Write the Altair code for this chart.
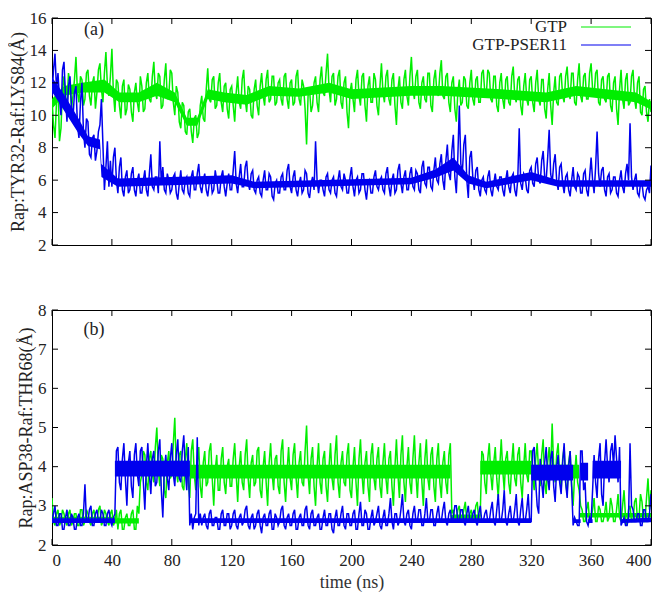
import altair as alt
import pandas as pd

# ---------------- data (1 ns sampling) ----------------
TIME = list(range(0, 401))

GTP_A = [
    11.0, 9.4, 8.6, 10.8, 11.8, 8.4, 9.2, 11.6, 12.4, 11.0, 10.6, 12.6, 12.0, 10.4, 11.2, 12.2, 13.6, 11.4, 10.8, 12.4,
    12.2, 10.6, 11.0, 12.6, 12.8, 11.2, 10.6, 12.0, 12.4, 10.4, 11.4, 12.8, 13.2, 11.6, 10.8, 12.6, 13.9, 11.8, 11.2, 12.4,
    14.1, 11.4, 10.2, 12.2, 12.0, 10.6, 9.8, 11.8, 12.2, 10.0, 10.4, 11.9, 11.6, 10.2, 9.6, 11.4, 12.0, 10.8, 10.2, 12.4,
    11.8, 10.2, 10.4, 12.0, 12.6, 11.0, 10.8, 12.4, 13.3, 11.4, 11.0, 12.6, 12.4, 10.4, 10.6, 12.2, 13.2, 11.0, 11.2, 12.8,
    12.6, 10.8, 10.0, 11.8, 11.4, 9.6, 9.2, 10.8, 10.6, 9.0, 8.8, 10.2, 10.4, 9.0, 8.3, 9.8, 10.0, 8.6, 8.9, 10.6,
    11.2, 9.8, 9.6, 11.6, 12.9, 11.0, 10.8, 12.2, 12.4, 10.4, 10.6, 12.0, 12.6, 10.8, 10.2, 11.8, 12.0, 10.4, 9.8, 11.6,
    11.8, 10.6, 9.6, 11.4, 12.4, 10.8, 10.4, 12.2, 12.8, 11.0, 10.2, 11.8, 11.6, 10.0, 9.8, 11.6, 12.2, 10.6, 10.0, 11.8,
    12.6, 11.2, 10.6, 12.2, 12.8, 10.8, 11.0, 12.4, 12.4, 10.6, 10.8, 12.0, 12.2, 11.0, 10.6, 12.4, 12.6, 11.0, 10.4, 12.0,
    12.2, 10.6, 10.8, 12.4, 12.8, 11.0, 10.6, 12.2, 11.8, 10.4, 8.2, 11.2, 11.6, 10.2, 10.6, 12.0, 12.4, 10.8, 10.2, 12.2,
    13.0, 11.4, 11.2, 12.6, 13.8, 11.6, 10.8, 12.4, 12.6, 10.6, 11.0, 12.4, 12.8, 10.8, 10.4, 12.0, 12.4, 10.2, 9.2, 11.4,
    12.0, 11.0, 10.2, 12.2, 12.8, 11.2, 10.6, 12.4, 12.6, 10.6, 9.6, 11.8, 12.4, 10.8, 10.8, 12.6, 12.2, 10.6, 10.0, 11.8,
    13.2, 11.4, 10.8, 12.4, 12.8, 11.0, 10.6, 12.2, 12.6, 10.6, 9.4, 11.6, 12.4, 10.8, 10.4, 12.2, 12.8, 11.2, 10.6, 12.4,
    13.6, 11.6, 11.0, 12.4, 12.8, 10.8, 10.4, 12.0, 12.4, 11.0, 10.8, 12.6, 12.6, 10.6, 10.2, 12.2, 12.8, 11.4, 11.2, 12.6,
    13.4, 11.2, 11.0, 12.4, 12.6, 10.8, 10.2, 12.0, 12.4, 10.4, 9.6, 11.4, 12.2, 10.6, 10.8, 12.4, 12.2, 10.6, 10.4, 12.0,
    12.8, 11.0, 10.6, 12.2, 12.4, 10.8, 10.8, 12.6, 12.8, 11.4, 11.2, 12.8, 12.6, 11.0, 10.8, 12.4, 12.4, 10.6, 10.2, 12.0,
    12.6, 11.0, 10.4, 12.2, 12.4, 10.8, 10.6, 12.4, 13.0, 11.2, 10.8, 12.2, 12.4, 10.6, 10.0, 11.8, 12.6, 11.0, 10.6, 12.2,
    12.4, 10.8, 10.2, 12.0, 12.8, 11.0, 10.6, 12.2, 12.2, 10.4, 9.8, 11.6, 12.6, 10.6, 9.4, 11.4, 12.4, 10.8, 10.6, 12.4,
    12.6, 11.2, 10.8, 12.4, 13.0, 11.4, 11.0, 12.6, 12.6, 10.8, 10.6, 12.2, 13.2, 11.2, 10.8, 12.4, 12.6, 11.0, 11.0, 12.6,
    13.2, 11.6, 11.2, 12.6, 12.8, 10.8, 10.6, 12.2, 12.4, 11.0, 10.8, 12.4, 12.6, 10.6, 10.2, 12.0, 12.4, 10.4, 9.4, 11.6,
    12.8, 11.0, 10.4, 12.2, 12.6, 10.6, 10.8, 12.4, 12.8, 11.0, 10.4, 12.0, 12.4, 10.2, 10.0, 11.6, 11.8, 10.2, 9.6, 11.0,
    10.2,
]

PSER_A = [
    11.2, 12.8, 13.8, 11.6, 12.6, 11.0, 10.0, 12.8, 13.3, 11.2, 9.6, 11.8, 12.4, 10.6, 9.8, 11.4, 11.8, 9.4, 8.6, 10.8,
    12.0, 9.0, 8.0, 9.8, 9.6, 7.6, 7.4, 8.6, 8.8, 7.2, 7.8, 9.0, 9.4, 11.0, 8.2, 5.4, 6.8, 8.4, 5.6, 7.2,
    5.6, 7.4, 8.0, 6.0, 5.2, 6.8, 7.4, 5.4, 5.0, 6.2, 6.6, 5.2, 5.4, 6.4, 6.8, 5.4, 5.0, 6.0, 6.4, 5.2,
    5.2, 6.0, 6.6, 5.4, 5.0, 6.4, 7.6, 5.6, 5.4, 6.2, 6.2, 5.2, 8.4, 5.8, 6.8, 5.4, 5.2, 6.4, 6.0, 5.2,
    5.4, 6.2, 6.4, 5.2, 4.8, 5.8, 6.6, 5.4, 5.2, 6.0, 6.2, 5.2, 5.0, 6.2, 6.6, 5.4, 5.4, 6.4, 7.0, 5.6,
    5.2, 6.0, 6.4, 5.4, 5.0, 5.8, 6.2, 5.2, 5.4, 6.6, 6.0, 5.2, 5.2, 6.2, 6.6, 5.6, 5.0, 5.8, 6.4, 5.4,
    5.4, 6.6, 7.8, 5.8, 5.2, 6.2, 7.0, 5.6, 5.6, 6.8, 7.2, 5.8, 5.4, 6.4, 6.6, 5.4, 5.2, 6.0, 6.2, 5.2,
    5.0, 6.0, 6.6, 5.4, 5.4, 6.4, 6.2, 5.0, 4.8, 5.8, 6.0, 5.2, 5.2, 6.2, 6.4, 5.4, 5.4, 6.6, 7.0, 5.6,
    5.2, 6.2, 6.6, 5.4, 5.0, 5.8, 6.2, 5.2, 5.4, 6.6, 6.4, 5.2, 4.9, 5.8, 6.2, 5.4, 8.4, 6.0, 5.2, 6.0,
    6.0, 5.4, 5.0, 6.2, 6.4, 5.4, 5.2, 6.0, 6.2, 5.2, 5.0, 6.0, 6.6, 5.6, 5.4, 6.4, 6.0, 5.2, 5.2, 6.2,
    6.8, 5.6, 5.0, 6.0, 6.2, 5.2, 5.4, 6.4, 6.4, 5.4, 4.8, 5.8, 6.0, 5.2, 5.2, 6.2, 6.6, 5.6, 5.4, 6.0,
    6.2, 5.4, 5.2, 6.4, 6.8, 5.6, 5.0, 6.0, 6.4, 5.2, 5.4, 6.6, 7.0, 5.8, 5.2, 6.2, 6.6, 5.4, 5.4, 6.4,
    6.8, 5.6, 5.4, 6.6, 6.4, 5.4, 5.2, 6.8, 7.2, 5.8, 5.6, 6.8, 6.8, 5.6, 5.4, 6.6, 7.4, 6.0, 5.8, 7.0,
    7.6, 6.0, 5.4, 7.2, 8.2, 6.4, 6.0, 7.8, 8.8, 6.2, 5.2, 7.4, 10.6, 7.0, 6.4, 8.2, 8.8, 6.0, 4.9, 7.4,
    7.8, 6.2, 5.4, 6.6, 6.8, 5.4, 5.0, 6.0, 6.2, 5.4, 5.2, 6.2, 6.6, 5.4, 5.0, 5.8, 6.4, 5.6, 5.4, 6.2,
    6.2, 5.4, 5.0, 6.0, 6.6, 5.6, 5.2, 6.2, 6.4, 5.4, 5.0, 6.0, 9.2, 5.8, 5.4, 6.4, 6.2, 5.4, 5.2, 6.6,
    6.8, 5.8, 5.6, 7.0, 7.4, 6.0, 5.8, 7.2, 7.8, 6.2, 6.0, 7.4, 9.1, 6.4, 5.8, 7.0, 7.6, 6.0, 5.4, 6.8,
    7.0, 5.8, 5.2, 6.2, 6.4, 5.4, 5.0, 6.0, 6.8, 5.6, 5.4, 6.4, 6.2, 5.2, 5.2, 6.4, 6.6, 5.4, 5.0, 6.2,
    7.4, 6.0, 5.2, 6.8, 9.0, 6.4, 5.6, 6.6, 6.8, 5.4, 5.0, 6.2, 6.4, 5.2, 5.4, 6.2, 6.2, 5.2, 5.0, 6.0,
    6.6, 5.6, 5.2, 6.4, 7.0, 6.0, 9.5, 6.2, 5.4, 6.0, 6.4, 5.2, 5.0, 5.8, 5.8, 5.0, 4.8, 5.4, 5.6, 5.2,
    6.9,
]

GTP_B = [
    3.2, 2.6, 2.5, 2.8, 2.9, 2.5, 2.6, 2.9, 2.8, 2.6, 2.5, 2.8, 2.9, 2.5, 2.6, 2.8, 2.8, 2.5, 2.5, 2.9,
    2.9, 2.5, 2.6, 2.9, 2.8, 2.6, 2.5, 2.8, 2.9, 2.6, 2.6, 2.9, 3.0, 2.5, 2.6, 2.9, 2.8, 2.6, 2.5, 2.8,
    2.9, 2.5, 2.6, 2.9, 2.4, 2.8, 2.9, 2.4, 2.4, 2.7, 2.8, 2.5, 2.5, 2.8, 2.9, 2.4, 2.4, 3.0, 2.8, 3.6,
    3.8, 4.4, 4.3, 3.6, 3.4, 4.2, 4.4, 3.8, 3.6, 4.5, 5.0, 3.9, 3.5, 4.3, 4.2, 3.4, 3.2, 4.1, 4.4, 3.7,
    3.8, 4.6, 5.25, 3.9, 3.6, 4.3, 4.4, 3.5, 3.4, 4.2, 4.6, 3.6, 3.2, 4.4, 4.7, 3.8, 3.4, 4.1, 4.5, 3.5,
    3.2, 4.1, 4.4, 3.5, 3.6, 4.4, 4.6, 3.7, 3.0, 3.9, 4.3, 3.4, 3.4, 4.2, 4.5, 3.6, 3.3, 4.0, 4.2, 3.5,
    3.5, 4.2, 4.6, 3.8, 3.1, 4.0, 4.4, 3.6, 3.4, 4.3, 4.7, 3.7, 3.2, 4.1, 4.3, 3.5, 3.6, 4.4, 4.5, 3.4,
    3.2, 4.0, 4.4, 3.6, 3.0, 4.1, 4.6, 3.8, 3.4, 4.2, 4.3, 3.5, 3.3, 4.4, 4.7, 3.6, 3.1, 3.9, 4.5, 3.7,
    3.4, 4.3, 4.6, 3.7, 3.2, 4.1, 4.4, 3.6, 3.5, 4.4, 5.05, 3.8, 3.3, 4.2, 4.5, 3.5, 3.0, 4.0, 4.6, 3.6,
    3.3, 4.2, 4.4, 3.5, 3.1, 4.0, 4.6, 3.7, 3.4, 4.3, 4.8, 3.6, 3.2, 4.1, 4.4, 3.6, 3.5, 4.3, 4.6, 3.4,
    3.2, 4.0, 4.5, 3.6, 3.0, 4.2, 4.7, 3.8, 3.3, 4.1, 4.4, 3.5, 3.1, 4.3, 4.6, 3.7, 3.4, 4.2, 4.5, 3.5,
    3.2, 4.1, 4.6, 3.7, 3.3, 4.2, 4.4, 3.5, 3.0, 4.0, 4.7, 3.8, 3.2, 4.3, 4.8, 3.6, 3.1, 4.0, 4.5, 3.6,
    3.3, 4.2, 4.8, 3.8, 3.2, 4.1, 4.6, 3.6, 3.0, 4.2, 4.7, 3.7, 3.4, 4.3, 4.5, 3.5, 3.1, 4.2, 4.6, 3.6,
    3.2, 4.1, 4.4, 3.6, 3.3, 4.3, 4.6, 2.8, 2.9, 2.6, 2.6, 2.9, 3.0, 2.6, 2.7, 2.9, 3.1, 2.6, 2.6, 2.8,
    2.9, 2.6, 2.7, 3.0, 3.1, 2.6, 2.8, 4.4, 4.3, 3.6, 3.3, 4.2, 4.6, 3.8, 3.4, 4.1, 4.5, 3.7, 3.2, 4.0,
    4.7, 3.9, 3.4, 4.2, 4.4, 3.6, 3.3, 4.1, 4.6, 3.7, 3.5, 4.3, 4.5, 3.6, 3.2, 4.0, 4.6, 3.8, 3.6, 4.4,
    4.4, 3.7, 3.4, 4.2, 4.6, 3.8, 3.5, 4.3, 4.7, 3.6, 3.3, 4.1, 4.5, 3.9, 5.1, 4.0, 3.6, 4.3, 4.6, 3.7,
    3.4, 4.2, 4.5, 3.6, 3.3, 4.1, 4.4, 3.5, 3.0, 3.8, 4.3, 3.6, 3.4, 3.0, 2.9, 2.6, 2.6, 2.9, 3.1, 2.6,
    2.7, 2.9, 3.2, 2.6, 2.6, 3.0, 2.9, 2.6, 2.6, 2.8, 3.1, 2.6, 2.7, 3.2, 3.0, 2.6, 2.6, 2.9, 3.3, 2.7,
    2.6, 3.0, 3.4, 2.7, 2.5, 2.9, 3.0, 2.6, 2.6, 3.1, 3.2, 2.6, 2.7, 3.3, 3.1, 2.6, 2.6, 3.2, 3.7, 2.9,
    3.4,
]

PSER_B = [
    2.6, 2.8, 3.0, 2.5, 2.5, 2.8, 2.8, 2.4, 2.4, 2.7, 2.9, 2.5, 2.5, 2.8, 2.7, 2.4, 2.4, 2.7, 2.8, 2.5,
    2.5, 2.8, 3.55, 2.6, 2.6, 2.9, 3.0, 2.5, 2.5, 2.8, 2.9, 2.6, 2.6, 2.9, 2.8, 2.5, 2.5, 2.8, 2.9, 2.6,
    2.5, 2.7, 2.8, 4.4, 4.5, 3.6, 3.4, 4.2, 4.6, 3.7, 3.0, 4.1, 4.4, 3.5, 3.2, 4.3, 4.6, 3.8, 3.5, 4.4,
    4.5, 3.6, 2.9, 4.0, 4.6, 3.8, 3.3, 4.2, 4.4, 3.5, 3.6, 4.4, 4.7, 3.4, 2.7, 3.9, 4.3, 3.7, 3.4, 4.2,
    4.6, 3.8, 3.5, 4.3, 4.7, 3.7, 3.6, 4.4, 4.8, 3.9, 3.4, 4.5, 2.5, 2.8, 2.4, 2.7, 2.8, 4.75, 2.5, 2.8,
    2.5, 2.7, 2.8, 2.5, 2.4, 2.8, 2.9, 2.5, 2.5, 2.7, 2.7, 2.4, 2.4, 2.8, 2.9, 2.5, 2.5, 2.8, 2.8, 2.4,
    2.5, 2.8, 2.9, 2.5, 2.4, 2.7, 2.8, 2.5, 2.6, 2.9, 3.0, 2.5, 2.4, 2.7, 2.8, 2.4, 2.5, 2.8, 2.9, 2.5,
    2.3, 2.7, 2.8, 2.5, 2.5, 2.8, 2.9, 2.4, 2.4, 2.8, 2.7, 2.5, 2.6, 2.9, 3.0, 2.5, 2.4, 2.7, 2.8, 2.5,
    2.5, 2.8, 2.9, 2.4, 2.4, 2.7, 2.8, 2.5, 2.5, 2.9, 3.0, 2.5, 2.4, 2.8, 2.9, 2.5, 2.5, 2.7, 2.8, 2.4,
    2.4, 2.7, 2.9, 2.5, 2.5, 2.8, 2.8, 2.4, 2.3, 2.7, 2.9, 2.5, 2.5, 2.8, 3.0, 2.5, 2.4, 2.8, 2.8, 2.5,
    2.5, 2.8, 2.9, 2.4, 2.4, 2.8, 3.1, 2.5, 2.5, 2.9, 2.8, 2.4, 2.4, 2.7, 2.9, 2.5, 2.6, 2.8, 3.0, 2.5,
    2.4, 2.7, 2.9, 2.5, 2.5, 2.8, 3.2, 2.6, 2.4, 2.8, 2.8, 2.5, 2.6, 2.9, 3.3, 2.6, 2.5, 2.8, 2.9, 2.5,
    2.4, 2.8, 3.0, 2.6, 2.6, 2.9, 2.9, 2.5, 2.5, 2.8, 3.2, 2.6, 2.6, 2.9, 2.9, 2.5, 2.5, 2.8, 3.0, 2.6,
    2.6, 2.9, 3.1, 2.6, 2.5, 2.8, 2.9, 2.6, 2.7, 3.0, 3.0, 2.6, 2.6, 2.9, 2.9, 2.6, 2.5, 2.8, 3.0, 2.6,
    2.6, 2.8, 2.9, 2.6, 2.5, 2.8, 3.0, 2.6, 2.6, 2.8, 2.9, 2.6, 2.6, 2.9, 3.1, 2.6, 2.5, 2.9, 3.3, 2.6,
    2.6, 2.9, 3.4, 2.6, 2.5, 2.8, 3.0, 2.6, 2.6, 2.9, 3.3, 2.6, 2.5, 2.9, 3.2, 2.6, 2.6, 2.9, 3.3, 2.6,
    2.6, 4.4, 4.5, 3.6, 3.0, 2.8, 4.2, 3.6, 3.2, 4.1, 4.5, 3.7, 3.4, 4.2, 4.4, 3.5, 3.1, 4.0, 4.3, 3.6,
    3.3, 4.1, 4.6, 3.6, 3.2, 4.0, 4.4, 3.5, 2.5, 2.7, 2.6, 2.5, 2.5, 4.4, 4.4, 3.4, 3.6, 2.6, 2.5, 2.7,
    2.6, 3.4, 4.3, 3.6, 3.2, 4.2, 4.6, 3.3, 3.0, 4.1, 4.7, 4.0, 3.6, 4.4, 4.6, 4.0, 4.8, 4.2, 3.6, 4.5,
    2.5, 2.6, 2.7, 2.5, 2.5, 2.7, 4.6, 3.0, 2.9, 2.6, 2.6, 2.8, 2.8, 2.5, 2.5, 2.9, 2.9, 2.6, 2.6, 2.8,
    3.3,
]

# dense core of each trace (time, lower edge, upper edge); repeated times mark a jump
GTP_A_BAND_T = [0, 8, 20, 35, 45, 58, 70, 82, 90, 97, 104, 115, 130, 145, 165, 185, 200, 240, 260, 300, 330, 350, 370, 390, 400]
GTP_A_BAND_LO = [10.4, 11.2, 11.4, 11.4, 10.8, 10.8, 11.2, 10.8, 9.35, 9.35, 11.0, 10.8, 10.65, 11.2, 11.15, 11.4, 11.0, 11.2, 11.2, 11.0, 10.8, 11.2, 11.0, 10.8, 10.35]
GTP_A_BAND_HI = [11.0, 11.8, 12.0, 12.2, 11.4, 11.4, 12.0, 11.4, 9.85, 9.85, 11.6, 11.4, 11.25, 11.8, 11.65, 12.0, 11.6, 11.8, 11.8, 11.6, 11.4, 11.8, 11.6, 11.4, 10.85]

PSER_A_BAND_T = [0, 8, 18, 24, 32, 33, 44, 120, 135, 240, 256, 268, 278, 290, 320, 338, 400]
PSER_A_BAND_LO = [11.45, 10.3, 8.85, 8.1, 7.9, 6.2, 5.6, 5.8, 5.5, 5.75, 6.15, 6.6, 5.8, 5.5, 6.0, 5.6, 5.6]
PSER_A_BAND_HI = [12.35, 11.3, 9.75, 8.7, 8.5, 7.0, 6.1, 6.3, 5.9, 6.15, 6.65, 7.4, 6.3, 5.9, 6.5, 6.0, 6.0]

GTP_B_BAND_T = [0, 42, 42, 58, 58, 92, 92, 266, 266, 286, 286, 320, 320, 352, 352, 400]
GTP_B_BAND_LO = [2.6, 2.6, 2.55, 2.55, 3.8, 3.8, 3.7, 3.7, 2.65, 2.65, 3.8, 3.8, 3.7, 3.7, 2.7, 2.7]
GTP_B_BAND_HI = [2.72, 2.72, 2.68, 2.68, 4.15, 4.15, 4.05, 4.05, 2.78, 2.78, 4.15, 4.15, 4.05, 4.05, 2.82, 2.82]

PSER_B_BAND_T = [0, 42, 42, 92, 92, 320, 320, 348, 348, 353, 353, 358, 358, 361, 361, 380, 380, 400]
PSER_B_BAND_LO = [2.56, 2.56, 3.75, 3.75, 2.56, 2.56, 3.65, 3.65, 2.56, 2.56, 3.65, 3.65, 2.56, 2.56, 3.7, 3.7, 2.56, 2.58]
PSER_B_BAND_HI = [2.68, 2.68, 4.15, 4.15, 2.68, 2.68, 4.05, 4.05, 2.66, 2.66, 4.1, 4.1, 2.66, 2.66, 4.15, 4.15, 2.66, 2.7]

SERIES = ["GTP", "GTP-PSER11"]
COLORS = ["#00ee00", "#0000ee"]
XTICKS = list(range(0, 401, 40))
YTICKS_A = list(range(2, 17, 2))
YTICKS_B = list(range(2, 9))

FONT = "Liberation Serif"
TXT = "#222222"
W = 599
H_A = 227
H_B = 235
TICK = 6


def panel(series, bands, ydom, yticks, ytitle, label, label_y, h, bottom):
    xs = alt.Scale(domain=[0, 400], nice=False, zero=False)
    ys = alt.Scale(domain=ydom, nice=False, zero=False)
    if bottom:
        xaxis = alt.Axis(values=XTICKS, ticks=False, domain=False, grid=False,
                         format="d", labelPadding=7, title="time (ns)",
                         titlePadding=5, labelFont=FONT, labelFontSize=17,
                         titleFont=FONT, titleFontSize=18, titleFontWeight="normal",
                         titleColor="#333333")
    else:
        xaxis = None
    yaxis = alt.Axis(values=yticks, ticks=False, domain=False, grid=False,
                     format="d", labelPadding=6, title=ytitle, titlePadding=2,
                     labelFont=FONT, labelFontSize=17,
                     titleFont=FONT, titleFontSize=18, titleFontWeight="normal")

    layers = []
    for i, name in enumerate(SERIES):
        bt, blo, bhi = bands[i]
        band = pd.DataFrame({"t": bt, "lo": blo, "hi": bhi})
        layers.append(
            alt.Chart(band).mark_area(color=COLORS[i], opacity=1, clip=True)
            .encode(
                x=alt.X("t:Q", scale=xs, axis=xaxis),
                y=alt.Y("lo:Q", scale=ys, axis=yaxis),
                y2="hi:Q",
            )
        )
        df = pd.DataFrame({"t": TIME, "v": series[i]})
        layers.append(
            alt.Chart(df).mark_line(color=COLORS[i], strokeWidth=1.5, clip=True)
            .encode(
                x=alt.X("t:Q", scale=xs, axis=xaxis),
                y=alt.Y("v:Q", scale=ys, axis=yaxis),
            )
        )

    xt = alt.Chart(pd.DataFrame({"t": XTICKS}))
    yt = alt.Chart(pd.DataFrame({"v": yticks}))
    layers += [
        xt.mark_rule(color="black", strokeWidth=1).encode(
            x=alt.X("t:Q", scale=xs, axis=xaxis), y=alt.value(h), y2=alt.value(h - TICK)),
        xt.mark_rule(color="black", strokeWidth=1).encode(
            x=alt.X("t:Q", scale=xs, axis=xaxis), y=alt.value(0), y2=alt.value(TICK)),
        yt.mark_rule(color="black", strokeWidth=1).encode(
            y=alt.Y("v:Q", scale=ys, axis=yaxis), x=alt.value(0), x2=alt.value(TICK)),
        yt.mark_rule(color="black", strokeWidth=1).encode(
            y=alt.Y("v:Q", scale=ys, axis=yaxis), x=alt.value(W - TICK), x2=alt.value(W)),
    ]

    layers.append(
        alt.Chart(pd.DataFrame({"l": [label]})).mark_text(
            font=FONT, fontSize=18, color=TXT, align="center", baseline="middle"
        ).encode(x=alt.value(42), y=alt.value(label_y), text="l:N")
    )
    return layers


top_layers = panel(
    [GTP_A, PSER_A],
    [(GTP_A_BAND_T, GTP_A_BAND_LO, GTP_A_BAND_HI), (PSER_A_BAND_T, PSER_A_BAND_LO, PSER_A_BAND_HI)],
    [2, 16], YTICKS_A, "Rap:TYR32-Raf:LYS84(Å)", "(a)", 12, H_A, False)
bot_layers = panel(
    [GTP_B, PSER_B],
    [(GTP_B_BAND_T, GTP_B_BAND_LO, GTP_B_BAND_HI), (PSER_B_BAND_T, PSER_B_BAND_LO, PSER_B_BAND_HI)],
    [2, 8], YTICKS_B, "Rap:ASP38-Raf:THR68(Å)", "(b)", 20, H_B, True)

# legend drawn inside the top panel
leg = pd.DataFrame({"s": SERIES, "c": COLORS})
for i, name in enumerate(SERIES):
    d = alt.Chart(leg).transform_filter(alt.datum.s == name)
    top_layers.append(
        d.mark_text(font=FONT, fontSize=17, color=TXT, align="right", baseline="middle")
        .encode(text="s:N", x=alt.value(515), y=alt.value(9 + 18 * i))
    )
    top_layers.append(
        d.mark_rule(color=COLORS[i], strokeWidth=1.2)
        .encode(x=alt.value(529), x2=alt.value(579), y=alt.value(9 + 18 * i))
    )

top = alt.layer(*top_layers).properties(width=W, height=H_A)
bot = alt.layer(*bot_layers).properties(width=W, height=H_B)

chart = (
    alt.vconcat(top, bot, spacing=46)
    .properties(padding={"left": 0, "top": 0, "right": 0, "bottom": 0})
    .configure_view(stroke="black", strokeWidth=1)
    .configure_axis(labelFont=FONT, labelFontSize=17, labelColor=TXT,
                    titleFont=FONT, titleFontSize=18, titleColor=TXT,
                    titleFontWeight="normal")
)

chart.save("out.html", embed_options={"renderer": "svg", "actions": False})
